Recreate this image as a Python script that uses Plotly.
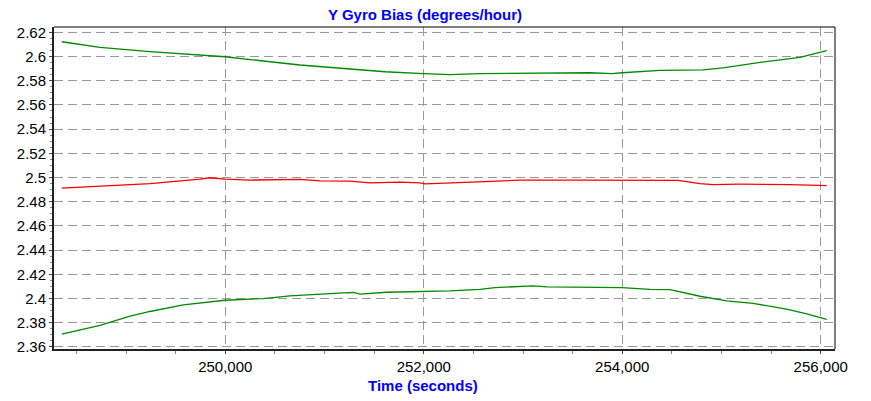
import plotly.graph_objects as go

# Upper bound (green)
time_upper = [248352, 248738, 249241, 249750, 249997, 250250, 250753, 251257, 251610,
              251993, 252265, 252567, 253250, 253675, 253897, 253998, 254381, 254814,
              255016, 255389, 255792, 256060]
upper = [2.6122, 2.6076, 2.6040, 2.6013, 2.5998, 2.5975, 2.5930, 2.5897, 2.5874,
         2.5858, 2.5850, 2.5858, 2.5862, 2.5866, 2.5858, 2.5866, 2.5886, 2.5890,
         2.5907, 2.5952, 2.5993, 2.6048]

# Estimate (red)
time_mid = [248352, 248738, 249241, 249745, 249846, 250000, 250249, 250753, 250955,
            251257, 251458, 251761, 251963, 252013, 252335, 252637, 252970, 253575,
            253978, 254562, 254784, 254915, 255187, 255691, 256060]
mid = [2.4912, 2.4926, 2.4950, 2.4987, 2.4998, 2.4987, 2.4979, 2.4985, 2.4973,
       2.4970, 2.4956, 2.4962, 2.4956, 2.4948, 2.4958, 2.4970, 2.4978, 2.4979,
       2.4980, 2.4976, 2.4950, 2.4942, 2.4945, 2.4942, 2.4933]

# Lower bound (green)
time_lower = [248352, 248738, 249040, 249241, 249577, 249997, 250383, 250652, 251189,
              251290, 251358, 251627, 252265, 252567, 252718, 253101, 253242, 253847,
              253998, 254280, 254482, 254784, 255053, 255318, 255657, 255859, 256060]
lower = [2.3705, 2.3779, 2.3854, 2.3893, 2.3947, 2.3986, 2.4000, 2.4022, 2.4047,
         2.4050, 2.4036, 2.4052, 2.4063, 2.4075, 2.4091, 2.4104, 2.4096, 2.4096,
         2.4091, 2.4075, 2.4074, 2.4019, 2.3981, 2.3960, 2.3912, 2.3873, 2.3827]

x_ticks = [250000, 252000, 254000, 256000]
x_tick_labels = ["250,000", "252,000", "254,000", "256,000"]
y_ticks = [2.36, 2.38, 2.40, 2.42, 2.44, 2.46, 2.48, 2.50, 2.52, 2.54, 2.56, 2.58, 2.60, 2.62]
y_tick_labels = ["2.36", "2.38", "2.4", "2.42", "2.44", "2.46", "2.48", "2.5", "2.52",
                 "2.54", "2.56", "2.58", "2.6", "2.62"]

GREEN = "#008a00"
RED = "#ff0000"
FONT = "Liberation Sans, Arial, sans-serif"

W, H = 871, 401

fig = go.Figure()
fig.add_trace(go.Scatter(x=time_upper, y=upper, mode="lines",
                         line=dict(color=GREEN, width=1.3), showlegend=False))
fig.add_trace(go.Scatter(x=time_mid, y=mid, mode="lines",
                         line=dict(color=RED, width=1.3), showlegend=False))
fig.add_trace(go.Scatter(x=time_lower, y=lower, mode="lines",
                         line=dict(color=GREEN, width=1.3), showlegend=False))

fig.update_layout(
    width=W, height=H,
    margin=dict(l=54, r=871 - 835, t=27, b=401 - 349),
    paper_bgcolor="white", plot_bgcolor="white",
    font=dict(family=FONT, size=15, color="black"),
    title=dict(text="<b>Y Gyro Bias (degrees/hour)</b>", x=425 / W, xanchor="center",
               xref="container", y=1 - 15 / H, yref="container", yanchor="middle",
               font=dict(family=FONT, size=15, color="#0000ff")),
    xaxis=dict(range=[248274, 256144], tickmode="array", tickvals=x_ticks,
               ticktext=x_tick_labels, showgrid=True, gridcolor="#999999",
               griddash="9px,5px", gridwidth=1, zeroline=False,
               showline=True, linecolor="#222222", linewidth=2,
               ticks="outside", ticklen=3, tickcolor="#444444",
               minor=dict(dtick=500, tick0=0, ticks="outside", ticklen=3,
                          tickcolor="#888888", showgrid=False)),
    yaxis=dict(range=[2.3583, 2.6244], tickmode="array", tickvals=y_ticks,
               ticktext=y_tick_labels, showgrid=True, gridcolor="#999999",
               griddash="9px,5px", gridwidth=1, zeroline=False,
               showline=True, linecolor="#222222", linewidth=2,
               ticks="outside", ticklen=3, tickcolor="#444444",
               minor=dict(dtick=0.005, tick0=0, ticks="outside", ticklen=2,
                          tickcolor="#888888", showgrid=False)),
    shapes=[
        dict(type="line", xref="paper", yref="paper", x0=0, x1=1, y0=1, y1=1,
             line=dict(color="black", width=1)),
        dict(type="line", xref="paper", yref="paper", x0=1, x1=1, y0=0, y1=1,
             line=dict(color="black", width=1)),
    ],
    annotations=[
        dict(text="<b>Time (seconds)</b>", xref="paper", yref="paper",
             x=(423 - 54) / 781, y=(348.7 - 385) / 321.7, xanchor="center",
             yanchor="middle", showarrow=False,
             font=dict(family=FONT, size=15, color="#0000ff")),
    ],
)

fig.write_html("out.html", config={"displayModeBar": False},
               post_script="document.body.style.margin='0';document.body.style.overflow='hidden';")
